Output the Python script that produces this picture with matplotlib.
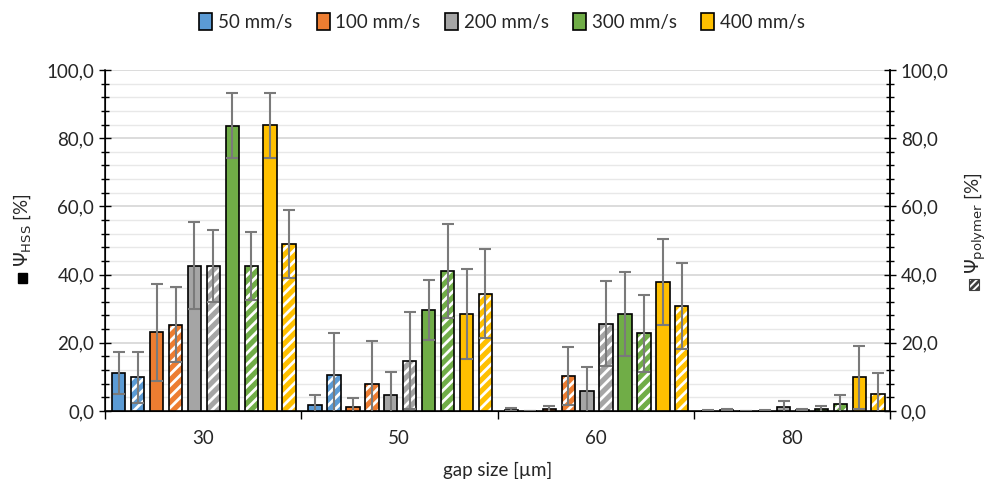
'''Recreation of the HSS / polymer share bar chart.'''
import matplotlib
matplotlib.use('Agg')
import matplotlib.pyplot as plt
import numpy as np
from matplotlib.patches import Patch, Rectangle
from matplotlib.ticker import FuncFormatter, MultipleLocator, FixedLocator

plt.rcParams['font.family'] = ['Lato', 'DejaVu Sans']
plt.rcParams['hatch.linewidth'] = 2.0

gaps = ['30', '50', '60', '80']
speeds = ['50 mm/s', '100 mm/s', '200 mm/s', '300 mm/s', '400 mm/s']
colors = ['#5B9BD5', '#ED7D31', '#A5A5A5', '#70AD47', '#FFC000']

# solid bars: psi HSS [%]
hss_50 = [11.2, 1.8, 0.4, 0.1]
hss_100 = [23.1, 1.3, 0.6, 0.0]
hss_200 = [42.6, 4.8, 5.9, 1.2]
hss_300 = [83.7, 29.5, 28.4, 0.6]
hss_400 = [83.8, 28.4, 37.8, 9.9]
hss_err_50 = [6.2, 2.8, 0.4, 0.1]
hss_err_100 = [14.2, 2.4, 0.9, 0.0]
hss_err_200 = [12.7, 6.6, 6.9, 1.6]
hss_err_300 = [9.5, 8.8, 12.3, 1.0]
hss_err_400 = [9.5, 13.1, 12.6, 9.3]

# hatched bars: psi polymer [%]
pol_50 = [9.9, 10.5, 0.0, 0.4]
pol_100 = [25.3, 7.8, 10.3, 0.1]
pol_200 = [42.6, 14.7, 25.6, 0.3]
pol_300 = [42.6, 41.1, 22.8, 2.1]
pol_400 = [48.9, 34.4, 30.8, 5.1]
pol_err_50 = [7.5, 12.4, 0.0, 0.2]
pol_err_100 = [11.0, 12.7, 8.6, 0.1]
pol_err_200 = [10.6, 14.2, 12.4, 0.2]
pol_err_300 = [10.0, 13.8, 11.3, 2.6]
pol_err_400 = [10.0, 13.0, 12.7, 6.1]

hss = [hss_50, hss_100, hss_200, hss_300, hss_400]
hss_err = [hss_err_50, hss_err_100, hss_err_200, hss_err_300, hss_err_400]
pol = [pol_50, pol_100, pol_200, pol_300, pol_400]
pol_err = [pol_err_50, pol_err_100, pol_err_200, pol_err_300, pol_err_400]

fs = 13.5
txt = '#262626'

fig = plt.figure(figsize=(9.98, 4.79), dpi=100)
ax = fig.add_axes([0.105, 0.142, 0.787, 0.712])

x = np.arange(len(gaps))
step = 0.0964
width = 0.068
err_kw = dict(fmt='none', ecolor='#7a7a7a', elinewidth=1.5, capsize=4.2,
              capthick=1.5, zorder=4)

for k in range(len(speeds)):
    xs = x - 0.429 + 2 * k * step
    xh = xs + step
    ax.bar(xs, hss[k], width, color=colors[k], edgecolor='black',
           linewidth=1.2, zorder=3)
    ax.bar(xh, pol[k], width, color=colors[k], edgecolor='white',
           hatch='///', linewidth=0, zorder=3)
    ax.bar(xh, pol[k], width, fill=False, edgecolor='black',
           linewidth=1.2, zorder=3)
    ax.errorbar(xs, hss[k], yerr=hss_err[k], **err_kw)
    ax.errorbar(xh, pol[k], yerr=pol_err[k], **err_kw)

fmt = FuncFormatter(lambda v, p: f'{v:.1f}'.replace('.', ','))
ax.set_xlim(-0.5, 3.5)
ax.set_ylim(0, 100)
ax.yaxis.set_major_locator(MultipleLocator(20))
ax.yaxis.set_minor_locator(MultipleLocator(4))
ax.yaxis.set_major_formatter(fmt)
ax.grid(True, which='minor', axis='y', color='#e8e8e8', linewidth=1, zorder=0)
ax.grid(True, which='major', axis='y', color='#d6d6d6', linewidth=1.2, zorder=0)
ax.set_axisbelow(True)
ax.tick_params(axis='y', which='major', direction='inout', length=8,
               width=1, labelsize=fs, labelcolor=txt)
ax.tick_params(axis='y', which='minor', direction='inout', length=6, width=1)

ax.set_xticks(x)
ax.set_xticklabels(gaps)
ax.xaxis.set_minor_locator(FixedLocator(np.arange(-0.5, 4.0, 1.0)))
ax.tick_params(axis='x', which='major', length=0, labelsize=fs,
               labelcolor=txt, pad=14)
ax.tick_params(axis='x', which='minor', direction='out', length=6, width=1)
ax.set_xlabel('gap size [µm]', fontsize=fs, color=txt, labelpad=10)
ax.spines['top'].set_visible(False)
for s in ['left', 'right', 'bottom']:
    ax.spines[s].set_linewidth(1.1)

ax2 = ax.twinx()
ax2.set_ylim(0, 100)
ax2.yaxis.set_major_locator(MultipleLocator(20))
ax2.yaxis.set_minor_locator(MultipleLocator(4))
ax2.yaxis.set_major_formatter(fmt)
ax2.tick_params(axis='y', which='major', direction='inout', length=8,
                width=1, labelsize=fs, labelcolor=txt)
ax2.tick_params(axis='y', which='minor', direction='inout', length=6, width=1)
ax2.spines['top'].set_visible(False)
ax2.spines['right'].set_linewidth(1.1)

# axis titles with their marker squares
fig.text(0.022, 1 - 230 / 479, r'$\Psi_{\mathrm{HSS}}$ [%]', rotation=90,
         ha='center', va='center', fontsize=fs, color=txt)
fig.text(0.977, 1 - 223 / 479, r'$\Psi_{\mathrm{polymer}}$ [%]', rotation=90,
         ha='center', va='center', fontsize=fs, color=txt)
fig.add_artist(Rectangle((18 / 998, 1 - 283 / 479), 9 / 998, 10 / 479,
                         transform=fig.transFigure, facecolor='black',
                         edgecolor='black'))
fig.add_artist(Rectangle((969 / 998, 1 - 290 / 479), 10 / 998, 11 / 479,
                         transform=fig.transFigure, facecolor='white',
                         edgecolor='#404040', hatch='/////', linewidth=0.8))

handles = [Patch(facecolor=c, edgecolor='black', linewidth=1.2) for c in colors]
fig.legend(handles, speeds, loc='center', bbox_to_anchor=(0.503, 1 - 22 / 479),
           ncol=5, frameon=False, fontsize=fs, handlelength=0.7,
           handleheight=1.0, handletextpad=0.3, columnspacing=1.3,
           labelcolor=txt)

fig.savefig('out.png', dpi=100)
